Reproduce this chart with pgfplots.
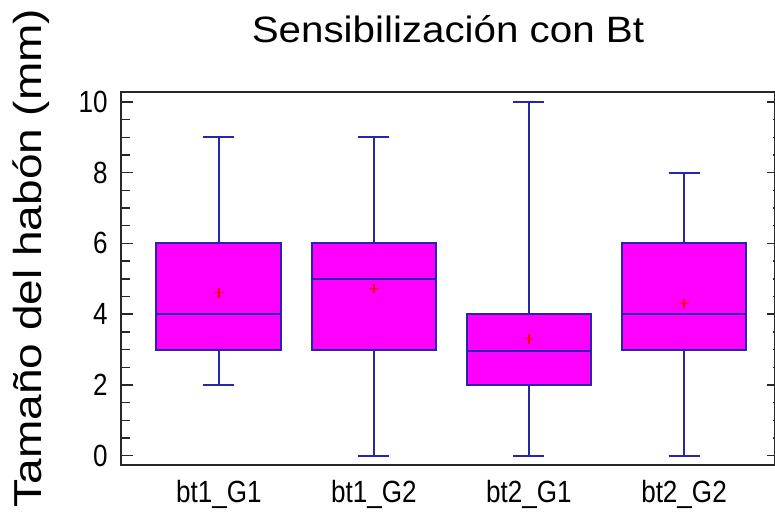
\documentclass[border=0pt]{standalone}
\usepackage{fontspec}
\setmainfont{Liberation Sans}
\newfontfamily\titlefont[FakeStretch=1.1]{Liberation Sans}
\newfontfamily\labelfont[FakeStretch=1.18]{Liberation Sans}
\newfontfamily\tickfont[FakeStretch=0.85]{Liberation Sans}
\usepackage{pgfplots}
\pgfplotsset{compat=1.18}
\usepgfplotslibrary{statistics}
\usetikzlibrary{calc}

\definecolor{boxblue}{RGB}{38,38,172}
\definecolor{boxfill}{RGB}{255,0,255}
\definecolor{frame}{RGB}{40,40,40}

\begin{document}
\begin{tikzpicture}
\begin{axis}[
    scale only axis,
    width=490.5pt, height=279.75pt,
    xmin=0.368, xmax=4.587,
    ymin=-0.263, ymax=10.28,
    axis line style={frame, line width=1.2pt},
    boxplot/draw direction=y,
    xtick={1,2,3,4},
    xticklabels={bt1\_G1, bt1\_G2, bt2\_G1, bt2\_G2},
    xtick style={draw=none},
    ytick={0,2,...,10},
    minor y tick num=3,
    ytick pos=left,
    tick align=inside,
    major tick length=9pt,
    minor tick length=6.75pt,
    every tick/.style={frame, line width=1.1pt},
    /pgf/number format/assume math mode=true,
    ticklabel style={font=\tickfont\fontsize{23}{25}\selectfont, text=black},
    xticklabel style={anchor=base, yshift=-28.5pt},
    yticklabel style={anchor=east, inner sep=0pt, xshift=-9.75pt},
    title={\titlefont\fontsize{27.5}{30}\selectfont Sensibilización con Bt},
    title style={at={(axis description cs:0.5,1)}, anchor=base, yshift=30.75pt, inner sep=0pt},
    every axis y label/.style={at={(axis description cs:-0.1208,0.555)}, rotate=90, anchor=base, inner sep=0pt},
    ylabel={\labelfont\fontsize{29.25}{31}\selectfont Tamaño del habón (mm)},
]
\addplot[draw=boxblue, fill=boxfill, line width=1.5pt,
    boxplot prepared={lower whisker=2, lower quartile=3, median=4,
        upper quartile=6, upper whisker=9, draw position=1,
        box extend=0.806, whisker extend=0.2}] coordinates {};
\addplot[draw=boxblue, fill=boxfill, line width=1.5pt,
    boxplot prepared={lower whisker=0, lower quartile=3, median=5,
        upper quartile=6, upper whisker=9, draw position=2,
        box extend=0.806, whisker extend=0.2}] coordinates {};
\addplot[draw=boxblue, fill=boxfill, line width=1.5pt,
    boxplot prepared={lower whisker=0, lower quartile=2, median=2.95,
        upper quartile=4, upper whisker=10, draw position=3,
        box extend=0.806, whisker extend=0.2}] coordinates {};
\addplot[draw=boxblue, fill=boxfill, line width=1.5pt,
    boxplot prepared={lower whisker=0, lower quartile=3, median=4,
        upper quartile=6, upper whisker=8, draw position=4,
        box extend=0.806, whisker extend=0.2}] coordinates {};
% means
\addplot[only marks, mark=+, mark size=3.5pt, red, line width=0.8pt]
    coordinates {(1,4.6) (2,4.72) (3,3.3) (4,4.3)};
\coordinate (bl) at (rel axis cs:0,0);
\coordinate (tr) at (rel axis cs:1,1);
\end{axis}
% right-hand ticks
\begin{axis}[
    scale only axis,
    width=490.5pt, height=279.75pt,
    xmin=0.368, xmax=4.587,
    ymin=-0.263, ymax=10.28,
    axis line style={frame, line width=1.2pt},
    hide x axis,
    ytick={0,2,...,10},
    minor y tick num=3,
    ytick pos=right,
    yticklabels={},
    tick align=inside,
    major tick length=6pt,
    minor tick length=1.5pt,
    every tick/.style={frame, line width=1.1pt},
]
\addplot[draw=none] coordinates {(1,0)};
\end{axis}
\pgfresetboundingbox
\path[use as bounding box] ($(bl)+(-90.75pt,-36pt)$) rectangle ($(tr)+(0pt,69pt)$);
\end{tikzpicture}
\end{document}
